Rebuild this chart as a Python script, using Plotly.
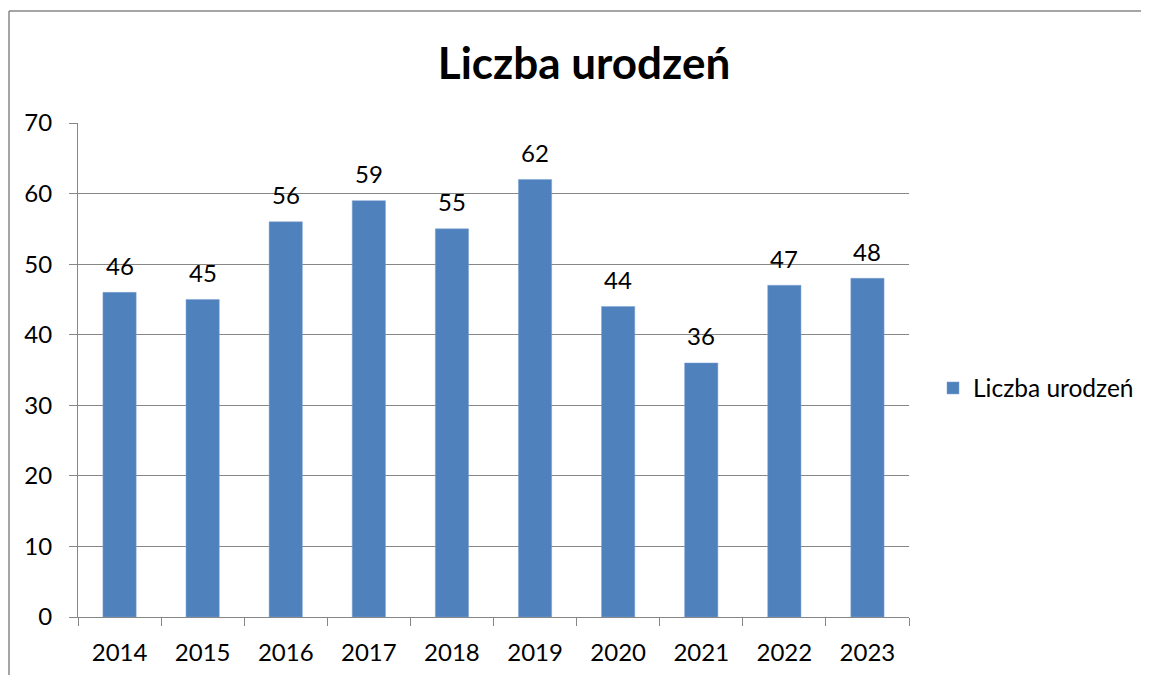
import plotly.graph_objects as go

years = ["2014", "2015", "2016", "2017", "2018", "2019", "2020", "2021", "2022", "2023"]
births = [46, 45, 56, 59, 55, 62, 44, 36, 47, 48]
series_name = "Liczba urodzeń"
title_text = "Liczba urodzeń"

# page body has an 8px margin, so the figure is drawn 8px smaller and shifted
OFF = 8
W, H = 1149 - OFF, 675 - OFF
x0, x1 = 78 - OFF, 909 - OFF
y_top, y_bot = 123 - OFF, 617 - OFF

FONT = "Lato"
GRID = "#878787"

fig = go.Figure()
fig.add_trace(go.Bar(
    x=years, y=births, name=series_name,
    marker=dict(color="#4F81BD", line=dict(color="#7FA3D4", width=0.5)),
    width=0.4,
))

# data labels: category axes take serial index positions for annotations
for i, v in enumerate(births):
    fig.add_annotation(x=i, y=v, text=str(v), showarrow=False,
                       yanchor="middle", yshift=27,
                       font=dict(family=FONT, size=24, color="#000000"))

fig.update_layout(
    width=W, height=H,
    margin=dict(l=0, r=0, t=0, b=0, autoexpand=False),
    paper_bgcolor="white", plot_bgcolor="white",
    font=dict(family=FONT, size=24, color="#000000"),
    title=dict(text="<b>" + title_text + "</b>", x=(584 - OFF) / W, xanchor="center",
               y=1 - (64 - OFF) / H, yanchor="middle",
               font=dict(family=FONT, size=44, color="#000000")),
    showlegend=True,
    legend=dict(x=(933 - OFF) / W, y=1 - (388 - OFF) / H, xanchor="left", yanchor="middle",
                font=dict(family=FONT, size=24.5, color="#000000"),
                bgcolor="rgba(0,0,0,0)", itemwidth=30),
    xaxis=dict(domain=[x0 / W, x1 / W], type="category", automargin=False,
               range=[-0.5, len(years) - 0.5],
               showline=True, linecolor=GRID, linewidth=1,
               ticks="outside", tickson="boundaries", ticklen=8,
               tickcolor=GRID, showgrid=False, tickangle=0,
               ticklabelstandoff=14,
               tickfont=dict(family=FONT, size=24, color="#000000")),
    yaxis=dict(domain=[1 - y_bot / H, 1 - y_top / H], range=[0, 70], dtick=10,
               automargin=False,
               showline=True, linecolor=GRID, linewidth=1,
               showgrid=True, gridcolor=GRID, gridwidth=1,
               ticks="outside", ticklen=8, tickcolor=GRID,
               zeroline=False, ticklabelstandoff=12,
               tickfont=dict(family=FONT, size=24, color="#000000")),
    bargap=0.6,
    shapes=[
        dict(type="line", xref="paper", yref="paper", x0=(9 - OFF) / W, x1=1.0,
             y0=1 - (11 - OFF) / H, y1=1 - (11 - OFF) / H, line=dict(color=GRID, width=1.5)),
        dict(type="line", xref="paper", yref="paper", x0=(9 - OFF) / W, x1=(9 - OFF) / W,
             y0=0, y1=1 - (11 - OFF) / H, line=dict(color=GRID, width=1.5)),
    ],
)

fig.write_html("out.html")
